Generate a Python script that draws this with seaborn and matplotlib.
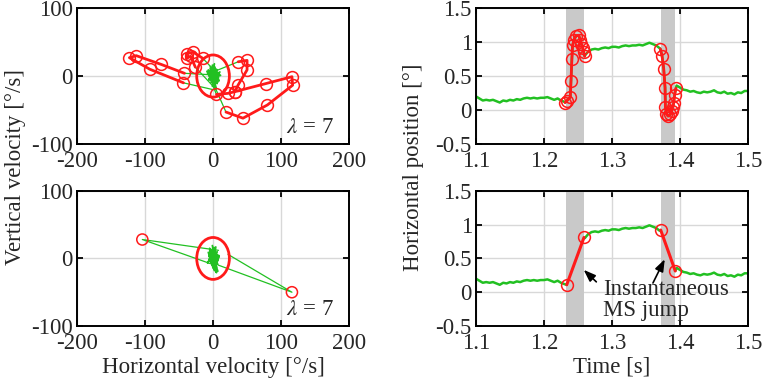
import numpy as np
import pandas as pd
import matplotlib
matplotlib.use("Agg")
import matplotlib.pyplot as plt
from matplotlib.patches import Ellipse
import seaborn as sns

# ---- velocity space (left panels) ----
# red microsaccade samples, one list per stretch of the trajectory
ms_paths = [
    [(5, -27), (22, -25.5), (32, -23), (78, -11), (116, -1), (117, -13.5), (80, -42.5), (44, -62), (19, -53)],
    [(-15, 26), (-29, 35), (-39, 33), (-39, 26), (-33, 29), (-26, 13)],
    [(-43.5, -10), (-93, 10), (-123, 27), (-113, 30), (-76, 17), (-42, 4)],
    [(32, -23), (37, -13), (50, 9), (50, 23), (37, 21)],
]
# green links between the drift cluster and the microsaccade samples
links_top = [
    [(0, -15), (5, -27)],
    [(19, -53), (0, -10)],
    [(2, 8), (-15, 26)],
    [(-26, 13), (0, -15)],
    [(0, -20), (-43.5, -10)],
    [(-42, 4), (-5, 2)],
    [(37, 21), (5, 8)],
]
# drift samples (inside the threshold ellipse)
drift_vx_top = [0, 4, -3, 6, -5, 3, -8, 5, 1, -4, 8, -1, 10, -6, 2, -3, 5, -9, 4, 0,
                -4, 6, 1, -5, 9, -1, 3, -7, 4, 0, -2, 11, -4, 1, 5, -6, 3, -1, 7, 0,
                2, -5, 6, -2, 4, -7, 1, 5, -3, 0]
drift_vy_top = [2, -6, 8, -3, 5, -12, 4, 10, -8, 14, -2, -15, 6, -5, 18, -10, 2, 7, -18, 12,
                -4, 9, -14, 3, -7, 16, -9, 5, -20, 8, -3, 1, 11, -12, 6, -6, 13, -2, -9, 0,
                -4, 7, -11, 4, -2, 9, -7, 3, 12, 0]
drift_vx_bot = [1, -4, 5, -2, 7, -6, 2, 0, -5, 6, -1, 4, -7, 2, 8, -2, 0, 5, -4, 1,
                -6, 4, 9, -1, 2, -5, 6, -2, 0, 4, -8, 1, 5, -4, 7, -1, 2, -5, 1, 0,
                4, -2, 6, -6, 2, 0, -4, 5, -1, 1]
drift_vy_bot = [0, 7, -5, 12, -9, 3, 16, -14, 5, -3, 19, -8, 9, -18, 2, 11, -6, -21, 6, 14,
                -2, -11, 4, 8, -16, 13, -4, 1, -9, 17, -7, 10, -13, 3, -19, 6, -1, 15, -5, 0,
                5, -8, 10, -3, 6, -12, 2, 8, -6, 0]
jump_vx = [-104, 116]
jump_vy = [28, -50]
links_bot = [
    [(8, 12), (-104, 28), (-3, -8)],
    [(22, 6), (116, -50), (8, -10)],
]
ellipse_rx, ellipse_ry = 24, 31
lam = 7

# ---- horizontal position traces (right panels) ----
dt = 0.005
pre_t0 = 1.100
pre_x = [0.20, 0.17, 0.14, 0.15, 0.14, 0.15, 0.13, 0.11, 0.14, 0.13, 0.15, 0.14, 0.16, 0.15,
         0.17, 0.18, 0.17, 0.18, 0.17, 0.18, 0.18, 0.19, 0.17, 0.15, 0.17, 0.14, 0.12]
mid_t0 = 1.260
mid_x = [0.80, 0.86, 0.89, 0.90, 0.89, 0.91, 0.92, 0.91, 0.93, 0.93, 0.92, 0.94, 0.95, 0.94,
         0.95, 0.95, 0.96, 0.95, 0.97, 0.99, 0.97, 0.95, 0.91]
post_t0 = 1.395
post_x = [0.36, 0.33, 0.30, 0.29, 0.27, 0.28, 0.26, 0.25, 0.27, 0.26, 0.27, 0.29, 0.26, 0.25,
          0.27, 0.24, 0.25, 0.23, 0.26, 0.25, 0.28, 0.28]

ms1_t = [1.231, 1.234, 1.2387, 1.2397, 1.241, 1.242, 1.244, 1.247, 1.251, 1.2534, 1.255, 1.257, 1.2584, 1.260]
ms1_x = [0.11, 0.14, 0.19, 0.43, 0.75, 0.95, 1.03, 1.09, 1.10, 1.03, 0.97, 0.91, 0.85, 0.79]
ms2_t = [1.371, 1.3735, 1.376, 1.378, 1.3785, 1.380, 1.3824, 1.3857, 1.3877, 1.389, 1.3907, 1.392, 1.394]
ms2_x = [0.90, 0.80, 0.61, 0.33, 0.05, -0.055, -0.09, -0.065, -0.017, 0.04, 0.10, 0.22, 0.32]
jump1_t, jump1_x = [1.2334, 1.2588], [0.11, 0.81]
jump2_t, jump2_x = [1.3716, 1.393], [0.92, 0.315]
ms_windows = [(1.233, 1.259), (1.372, 1.393)]

RED = "#ff1a1a"
GREEN = "#22c022"
GREY = "#c9c9c9"


def seg(t0, vals):
    t = t0 + dt * np.arange(len(vals))
    return pd.DataFrame({"t": t, "x": vals})


def xy(points):
    return pd.DataFrame(points, columns=["x", "y"])


sns.set_theme(style="ticks")
plt.rcParams["font.family"] = ["Liberation Serif", "DejaVu Serif"]
plt.rcParams["mathtext.fontset"] = "stix"
plt.rcParams["axes.unicode_minus"] = False

fig = plt.figure(figsize=(7.65, 3.84), dpi=100)
ax_vt = fig.add_axes([0.1007, 0.625, 0.3556, 0.354])
ax_vb = fig.add_axes([0.1007, 0.151, 0.3556, 0.352])
ax_pt = fig.add_axes([0.6222, 0.625, 0.3556, 0.354])
ax_pb = fig.add_axes([0.6222, 0.151, 0.3556, 0.352])

FS = 16.5


def style(ax):
    ax.grid(True, color="#d8d8d8", lw=1)
    ax.set_axisbelow(True)
    ax.tick_params(direction="in", top=True, right=True, length=4, width=1.3,
                   labelsize=FS, color="black")
    ax.tick_params(axis="y", pad=3)
    ax.tick_params(axis="x", pad=5)
    for s in ax.spines.values():
        s.set_linewidth(1.4)
        s.set_color("black")
    ax.set_xlabel("")
    ax.set_ylabel("")


# top-left: all samples
sns.lineplot(x=drift_vx_top, y=drift_vy_top, sort=False, estimator=None, color=GREEN, lw=1.3, ax=ax_vt)
for link in links_top:
    d = xy(link)
    sns.lineplot(data=d, x="x", y="y", sort=False, estimator=None, color=GREEN, lw=0.9, ax=ax_vt)
for path in ms_paths:
    d = xy(path)
    sns.lineplot(data=d, x="x", y="y", sort=False, estimator=None, color=RED, lw=2,
                 marker="o", ms=8.5, mfc="none", mec=RED, mew=1.1, ax=ax_vt)

# bottom-left: instantaneous jumps
sns.lineplot(x=drift_vx_bot, y=drift_vy_bot, sort=False, estimator=None, color=GREEN, lw=1.3, ax=ax_vb)
for link in links_bot:
    d = xy(link)
    sns.lineplot(data=d, x="x", y="y", sort=False, estimator=None, color=GREEN, lw=0.9, ax=ax_vb)
sns.scatterplot(x=jump_vx, y=jump_vy, marker="o", s=64, facecolor="none", edgecolor=RED,
                linewidth=1.1, ax=ax_vb, zorder=5)

for ax in (ax_vt, ax_vb):
    ax.add_patch(Ellipse((0, 0), 2 * ellipse_rx, 2 * ellipse_ry, fill=False, ec=RED, lw=2, zorder=6))
    ax.set_xlim(-200, 200)
    ax.set_ylim(-100, 100)
    ax.set_xticks([-200, -100, 0, 100, 200])
    ax.set_yticks([-100, 0, 100])
    ax.text(178, -75, r"$\lambda$ = %d" % lam, ha="right", va="center", fontsize=FS)
    style(ax)

# top-right: full trace with MS samples
pre, mid, post = seg(pre_t0, pre_x), seg(mid_t0, mid_x), seg(post_t0, post_x)
ms1 = pd.DataFrame({"t": ms1_t, "x": ms1_x})
ms2 = pd.DataFrame({"t": ms2_t, "x": ms2_x})
full = pd.concat([pre, ms1, mid, ms2, post]).sort_values("t")

for ax in (ax_pt, ax_pb):
    for a, b in ms_windows:
        ax.axvspan(a, b, color=GREY, lw=0, zorder=1)

sns.lineplot(data=full, x="t", y="x", sort=False, estimator=None, color=GREEN, lw=1.8, ax=ax_pt)
for d in (ms1, ms2):
    sns.lineplot(data=d, x="t", y="x", sort=False, estimator=None, color=RED, lw=2,
                 marker="o", ms=8.5, mfc="none", mec=RED, mew=1.1, ax=ax_pt)

# bottom-right: jump replaces the MS
for d in (pd.concat([pre, pd.DataFrame({"t": [jump1_t[0]], "x": [jump1_x[0]]})]), mid,
          pd.concat([pd.DataFrame({"t": [jump2_t[1]], "x": [jump2_x[1]]}), post])):
    sns.lineplot(data=d, x="t", y="x", sort=False, estimator=None, color=GREEN, lw=1.8, ax=ax_pb)
for jt, jx in ((jump1_t, jump1_x), (jump2_t, jump2_x)):
    sns.lineplot(x=jt, y=jx, sort=False, estimator=None, color=RED, lw=2.2,
                 marker="o", ms=8.5, mfc="none", mec=RED, mew=1.1, ax=ax_pb)

ax_pb.text(1.2872, -0.11, "Instantaneous\nMS jump", ha="left", va="center", fontsize=FS,
           linespacing=1.0)
arrow = dict(arrowstyle="-|>,head_length=0.6,head_width=0.22", color="black", lw=1.2)
ax_pb.annotate("", xy=(1.2554, 0.36), xytext=(1.2799, 0.125), arrowprops=arrow)
ax_pb.annotate("", xy=(1.3794, 0.525), xytext=(1.3584, 0.10), arrowprops=arrow)

for ax in (ax_pt, ax_pb):
    ax.set_xlim(1.1, 1.5)
    ax.set_ylim(-0.5, 1.5)
    ax.set_xticks([1.1, 1.2, 1.3, 1.4, 1.5])
    ax.set_xticklabels(["1.1", "1.2", "1.3", "1.4", "1.5"])
    ax.set_yticks([-0.5, 0, 0.5, 1, 1.5])
    ax.set_yticklabels(["-0.5", "0", "0.5", "1", "1.5"])
    style(ax)

ax_vb.set_xlabel("Horizontal velocity [°/s]", fontsize=FS, labelpad=2)
ax_pb.set_xlabel("Time [s]", fontsize=FS, labelpad=2)
fig.text(0.02, 0.565, "Vertical velocity [°/s]", rotation=90, ha="center", va="center", fontsize=FS)
fig.text(0.54, 0.565, "Horizontal position [°]", rotation=90, ha="center", va="center", fontsize=FS)

fig.savefig("out.png", dpi=100)
